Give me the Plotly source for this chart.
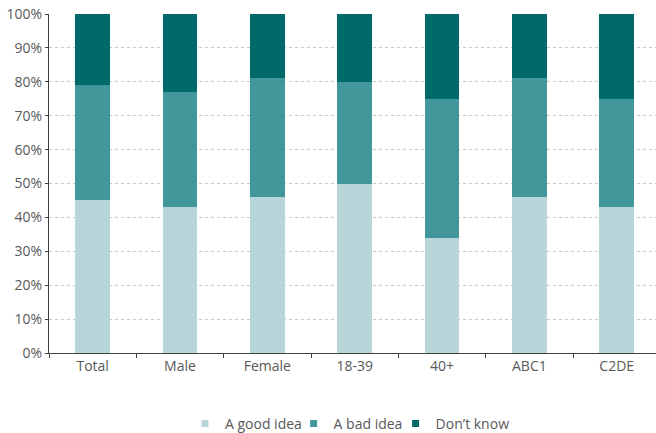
import plotly.graph_objects as go

categories = ["Total", "Male", "Female", "18-39", "40+", "ABC1", "C2DE"]
good_idea = [45, 43, 46, 50, 34, 46, 43]
bad_idea = [34, 34, 35, 30, 41, 35, 32]
dont_know = [21, 23, 19, 20, 25, 19, 25]
tick_vals = [0, 10, 20, 30, 40, 50, 60, 70, 80, 90, 100]
tick_text = [f"{v}%" for v in tick_vals]

series = [
    ("A good idea", good_idea, "#b8d6d9"),
    ("A bad idea", bad_idea, "#42979b"),
    ("Don\u2019t know", dont_know, "#006a6b"),
]
legend_ids = ["legend", "legend2", "legend3"]
legend_x = [0.224, 0.403, 0.571]

fig = go.Figure()
for name, vals, col in series:
    fig.add_trace(go.Bar(x=categories, y=vals, name=name, showlegend=False,
                         marker=dict(color=col, line=dict(width=0))))
for (name, vals, col), lid in zip(series, legend_ids):
    fig.add_trace(go.Scatter(x=[None], y=[None], name=name, mode="markers",
                             marker=dict(symbol="square", size=7, color=col),
                             showlegend=True, legend=lid))

font = "Open Sans, Noto Sans, sans-serif"
leg_common = dict(orientation="h", xanchor="left", y=-0.209, yanchor="middle",
                  font=dict(size=14, color="#595959"), itemwidth=30,
                  bgcolor="rgba(0,0,0,0)")
fig.update_layout(
    barmode="stack",
    bargap=0.6,
    width=656, height=433,
    margin=dict(l=49, r=0, t=14, b=80, autoexpand=False),
    paper_bgcolor="white", plot_bgcolor="white",
    font=dict(family=font, size=14, color="#595959"),
    showlegend=True,
    legend=dict(x=legend_x[0], **leg_common),
    legend2=dict(x=legend_x[1], **leg_common),
    legend3=dict(x=legend_x[2], **leg_common),
    xaxis=dict(range=[-0.5, 6.45], showline=True, linecolor="#404040", linewidth=1,
               ticks="outside", ticklen=4, tickcolor="#404040", tickson="boundaries",
               showgrid=False, automargin=False, tickfont=dict(size=14, color="#595959")),
    yaxis=dict(range=[0, 100], tickvals=tick_vals, ticktext=tick_text,
               showline=True, linecolor="#404040", linewidth=1,
               ticks="outside", ticklen=3, tickcolor="#404040", automargin=False,
               showgrid=True, gridcolor="#c8c8c8", griddash="dot", gridwidth=1,
               zeroline=False, tickfont=dict(size=14, color="#595959")),
)
fig.write_html("out.html", config={"displayModeBar": False},
               post_script="document.body.style.margin='0';document.body.style.overflow='hidden';")
